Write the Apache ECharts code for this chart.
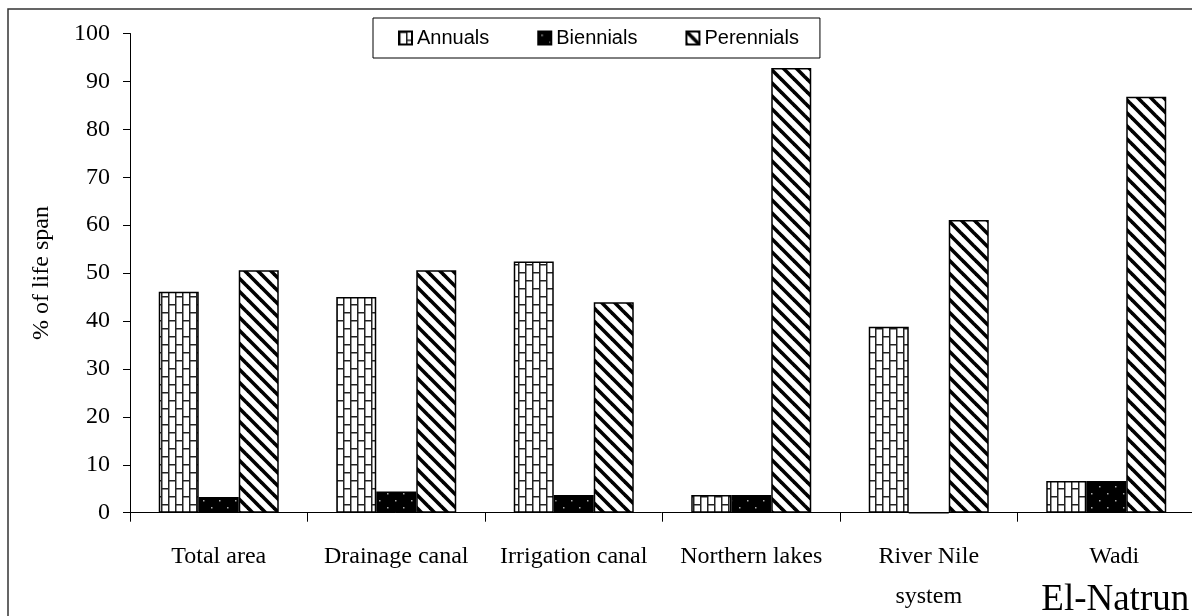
<!DOCTYPE html>
<html>
<head>
<meta charset="utf-8">
<script src="https://cdn.jsdelivr.net/npm/echarts@6/dist/echarts.min.js"></script>
<style>html,body{margin:0;padding:0;background:#fff}#c{width:1192px;height:616px}</style>
</head>
<body>
<div id="c"></div>
<script>
const categories = ['Total area', 'Drainage canal', 'Irrigation canal', 'Northern lakes', 'River Nile system', 'Wadi El-Natrun'];
const seriesNames = ['Annuals', 'Biennials', 'Perennials'];
const annuals = [46.1, 45.0, 52.4, 3.7, 38.8, 6.6];
const biennials = [3.3, 4.4, 3.7, 3.7, 0, 6.6];
const perennials = [50.6, 50.6, 43.9, 92.8, 61.1, 86.8];
const yTicks = { min: 0, max: 100, interval: 10 };

function makeCanvas(w, h, draw) {
  const c = document.createElement('canvas');
  c.width = w; c.height = h;
  const ctx = c.getContext('2d');
  draw(ctx, w, h);
  return c;
}
// vertical brick pattern
const brick = makeCanvas(14, 16, (ctx, w, h) => {
  ctx.fillStyle = '#fff'; ctx.fillRect(0, 0, w, h);
  ctx.fillStyle = '#222';
  ctx.fillRect(0, 0, 1.5, h);
  ctx.fillRect(7, 0, 1.5, h);
  ctx.fillRect(0, 0, 7, 1.5);
  ctx.fillRect(7, 8, 7, 1.5);
});
// black with dots
const dots = makeCanvas(16, 14, (ctx, w, h) => {
  ctx.fillStyle = '#000'; ctx.fillRect(0, 0, w, h);
  ctx.fillStyle = '#aaa';
  ctx.fillRect(3, 3, 1.5, 1.5);
  ctx.fillRect(11, 10, 1.5, 1.5);
});
// diagonal "\" stripes
const stripes = makeCanvas(13, 13, (ctx, w, h) => {
  ctx.fillStyle = '#fff'; ctx.fillRect(0, 0, w, h);
  ctx.strokeStyle = '#000'; ctx.lineWidth = 3.6;
  for (let k = -1; k <= 1; k++) {
    ctx.beginPath();
    ctx.moveTo(k * w - 2, -2);
    ctx.lineTo(k * w + w + 2, h + 2);
    ctx.stroke();
  }
});
const fills = [brick, dots, stripes];
const dataSets = [annuals, biennials, perennials];

const chart = echarts.init(document.getElementById('c'));
const serif = '"Liberation Serif", "Times New Roman", serif';
const sans = '"Liberation Sans", Arial, sans-serif';
chart.setOption({
  animation: false,
  backgroundColor: '#fff',
  graphic: [{
    type: 'rect', z: -1, silent: true,
    shape: { x: 8, y: 9, width: 1200, height: 700 },
    style: { fill: 'none', stroke: '#333', lineWidth: 1.5 }
  }],
  legend: {
    data: seriesNames,
    icon: 'rect',
    left: 373, top: 18,
    padding: [10, 21, 10, 25],
    itemGap: 48,
    itemWidth: 13, itemHeight: 13,
    borderColor: '#000', borderWidth: 1,
    textStyle: { fontFamily: sans, fontSize: 20, color: '#000' }
  },
  grid: { left: 130, right: -3, top: 33.5, bottom: 103.3, containLabel: false, outerBoundsMode: 'none' },
  xAxis: {
    type: 'category',
    data: categories,
    axisLine: { lineStyle: { color: '#000', width: 1 } },
    axisTick: { show: true, length: 9, lineStyle: { color: '#000' } },
    axisLabel: {
      interval: 0, margin: 24, color: '#000',
      fontFamily: serif, fontSize: 24, lineHeight: 40,
      formatter: function (v) {
        if (v === 'River Nile system') return 'River Nile\nsystem';
        if (v === 'Wadi El-Natrun') return '{w|Wadi}\n{big|El-Natrun}';
        return v;
      },
      rich: {
        w: { fontFamily: serif, fontSize: 24, lineHeight: 40, color: '#000', padding: [0, 0, 0, 16] },
        big: { fontFamily: serif, fontSize: 37, lineHeight: 48, color: '#000', padding: [0, 0, 0, 18] }
      }
    }
  },
  yAxis: {
    type: 'value',
    min: yTicks.min, max: yTicks.max, interval: yTicks.interval,
    name: '% of life span',
    nameLocation: 'middle', nameRotate: 90, nameGap: 76,
    nameTextStyle: { fontFamily: serif, fontSize: 24, color: '#000' },
    axisLine: { show: true, lineStyle: { color: '#000', width: 1 } },
    axisTick: { show: true, length: 7, lineStyle: { color: '#000' } },
    axisLabel: { margin: 20, color: '#000', fontFamily: serif, fontSize: 24 },
    splitLine: { show: false }
  },
  series: seriesNames.map((name, i) => ({
    name: name,
    type: 'bar',
    data: dataSets[i],
    barWidth: 40,
    barGap: '0%',
    itemStyle: {
      color: { image: fills[i], repeat: 'repeat' },
      borderColor: '#000', borderWidth: 1.5
    }
  }))
});
</script>
</body>
</html>
